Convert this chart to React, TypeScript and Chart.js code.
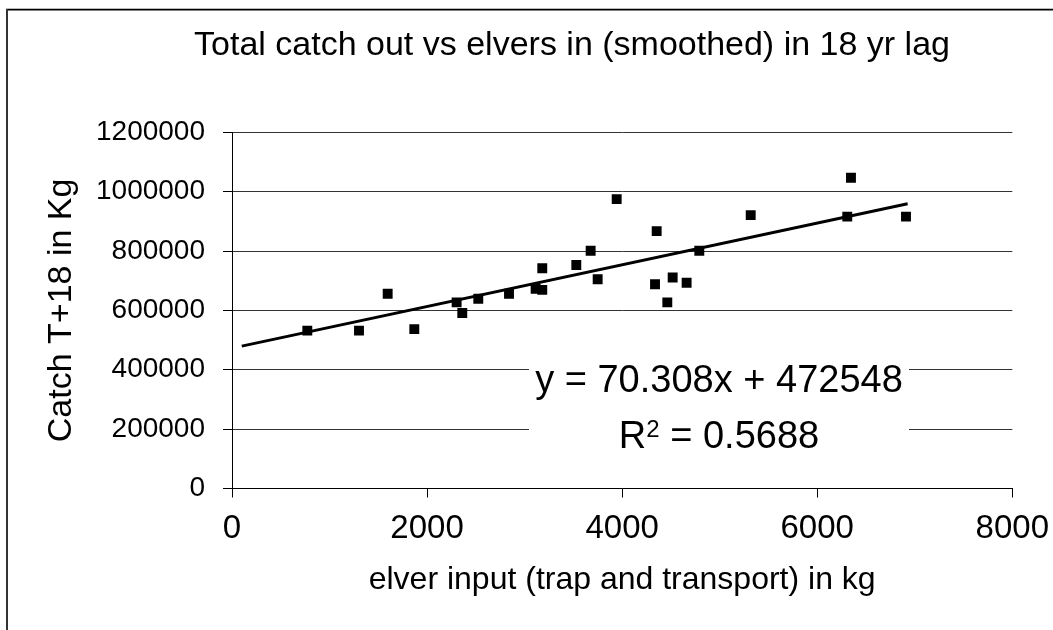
import React, { useEffect, useRef } from "react";
import { Chart, registerables } from "chart.js";

Chart.register(...registerables);

const FONT = '"Liberation Sans", Arial, Helvetica, sans-serif';

// ---- data ----
const elverInput = [772, 1302, 1596, 1869, 2303, 2361, 2525, 2840, 3113, 3181, 3181, 3530, 3677, 3749, 3944, 4337, 4354, 4463, 4518, 4661, 4791, 5318, 6308, 6346, 6910];
const catchT18 = [532000, 532000, 656000, 537000, 627000, 591000, 639000, 656000, 673000, 669000, 742000, 753000, 801000, 705000, 975000, 688000, 867000, 627000, 711000, 693000, 801000, 921000, 916000, 1047000, 916000];

const trendSlope = 70.308;
const trendIntercept = 472548;
const trendXRange = [100, 6927];

const xTickValues = [0, 2000, 4000, 6000, 8000];
const yTickValues = [0, 200000, 400000, 600000, 800000, 1000000, 1200000];

const chartTitle = "Total catch out vs elvers in (smoothed) in 18 yr lag";
const xAxisTitle = "elver input (trap and transport) in kg";
const yAxisTitle = "Catch T+18 in Kg";
const equationText = "y = 70.308x + 472548";
const r2Text = "0.5688";

// ---- layout ----
const W = 1053;
const H = 630;
const AREA = { left: 232, top: 132.3, right: 1012.3, bottom: 488.5 };
const TITLE_POS = { x: 572, y: 46, size: 34 };
const EQ = { x0: 3045, x1: 6941, yTop: 433000, yBottom: 55000, cx: 4993, line1: 325100, line2: 136400, size: 38 };
const X_TICK_SIZE = 33;
const Y_TICK_SIZE = 28;
const X_TITLE_SIZE = 32;
const Y_TITLE_SIZE = 34;

const framePlugin = {
  id: "frame",
  beforeDraw(chart: any) {
    const { ctx } = chart;
    ctx.save();
    ctx.fillStyle = "#ffffff";
    ctx.fillRect(0, 0, W, H);
    ctx.fillStyle = "#bbbbbb";
    ctx.fillRect(6, 8, W, 1);
    ctx.fillStyle = "#000000";
    ctx.fillRect(6, 9, W, 1.5);
    ctx.fillStyle = "#333333";
    ctx.fillRect(6, 9, 2, H);
    ctx.fillStyle = "#000000";
    ctx.font = `${TITLE_POS.size}px ${FONT}`;
    ctx.textAlign = "center";
    ctx.textBaseline = "middle";
    ctx.fillText(chartTitle, TITLE_POS.x, TITLE_POS.y);
    ctx.restore();
  },
};

const equationPlugin = {
  id: "equation",
  beforeDatasetsDraw(chart: any) {
    const { ctx, scales } = chart;
    const x = scales.x;
    const y = scales.y;
    const left = x.getPixelForValue(EQ.x0);
    const right = x.getPixelForValue(EQ.x1);
    const top = y.getPixelForValue(EQ.yTop);
    const bottom = y.getPixelForValue(EQ.yBottom);
    ctx.save();
    ctx.fillStyle = "#ffffff";
    ctx.fillRect(left, top, right - left, bottom - top);
    ctx.fillStyle = "#000000";
    ctx.textBaseline = "alphabetic";
    const cx = x.getPixelForValue(EQ.cx);
    ctx.font = `${EQ.size}px ${FONT}`;
    ctx.textAlign = "center";
    ctx.fillText(equationText, cx, y.getPixelForValue(EQ.line1));
    // R² line
    const b2 = y.getPixelForValue(EQ.line2);
    const supSize = Math.round(EQ.size * 0.62);
    ctx.font = `${EQ.size}px ${FONT}`;
    const wR = ctx.measureText("R").width;
    const wRest = ctx.measureText(" = " + r2Text).width;
    ctx.font = `${supSize}px ${FONT}`;
    const wSup = ctx.measureText("2").width;
    const total = wR + wSup + wRest;
    let sx = cx - total / 2;
    ctx.textAlign = "left";
    ctx.font = `${EQ.size}px ${FONT}`;
    ctx.fillText("R", sx, b2);
    sx += wR;
    ctx.font = `${supSize}px ${FONT}`;
    ctx.fillText("2", sx, b2 - EQ.size * 0.28);
    sx += wSup;
    ctx.font = `${EQ.size}px ${FONT}`;
    ctx.fillText(" = " + r2Text, sx, b2);
    ctx.restore();
  },
};

export default function App() {
  const canvasRef = useRef<HTMLCanvasElement | null>(null);

  useEffect(() => {
    const canvas = canvasRef.current;
    if (!canvas) return;
    const points = elverInput.map((v, i) => ({ x: v, y: catchT18[i] }));
    const trend = trendXRange.map((v) => ({ x: v, y: trendSlope * v + trendIntercept }));

    const chart = new Chart(canvas, {
      type: "scatter",
      data: {
        datasets: [
          {
            label: "Catch",
            data: points,
            pointStyle: "rect",
            pointRadius: 7,
            pointHoverRadius: 7,
            backgroundColor: "#000000",
            borderColor: "#000000",
            borderWidth: 0,
            showLine: false,
          },
          {
            label: "Trend",
            data: trend,
            showLine: true,
            pointRadius: 0,
            pointHoverRadius: 0,
            borderColor: "#000000",
            borderWidth: 3,
            backgroundColor: "#000000",
          },
        ],
      },
      options: {
        responsive: false,
        animation: false,
        events: [],
        layout: { padding: { left: 0, top: AREA.top, right: W - AREA.right, bottom: 0 } },
        plugins: {
          legend: { display: false },
          tooltip: { enabled: false },
          title: { display: false },
        },
        scales: {
          x: {
            type: "linear",
            position: "bottom",
            min: 0,
            max: 8000,
            afterBuildTicks: (s: any) => {
              s.ticks = xTickValues.map((v) => ({ value: v }));
            },
            afterFit: (s: any) => {
              s.height = H - AREA.bottom;
              s.paddingLeft = 0;
              s.paddingRight = 0;
            },
            ticks: {
              font: { size: X_TICK_SIZE, family: FONT },
              color: "#000000",
              padding: 11.4,
              maxRotation: 0,
              autoSkip: false,
              callback: (v: any) => String(v),
            },
            grid: { drawOnChartArea: false, drawTicks: true, tickLength: 9, color: "#000000" },
            border: { color: "#000000", width: 1 },
            title: {
              display: true,
              text: xAxisTitle,
              color: "#000000",
              font: { size: X_TITLE_SIZE, family: FONT },
              padding: { top: 0, bottom: 31 },
            },
          },
          y: {
            type: "linear",
            min: 0,
            max: 1200000,
            afterBuildTicks: (s: any) => {
              s.ticks = yTickValues.map((v) => ({ value: v }));
            },
            afterFit: (s: any) => {
              s.width = AREA.left;
              s.paddingTop = 0;
              s.paddingBottom = 0;
            },
            ticks: {
              font: { size: Y_TICK_SIZE, family: FONT },
              color: "#000000",
              padding: 18,
              autoSkip: false,
              callback: (v: any) => String(v),
            },
            grid: { color: "#333333", tickColor: "#000000", tickLength: 9, lineWidth: 1 },
            border: { color: "#000000", width: 1 },
            title: {
              display: true,
              text: yAxisTitle,
              color: "#000000",
              font: { size: Y_TITLE_SIZE, family: FONT },
              padding: { top: 62 - Y_TITLE_SIZE * 0.6, bottom: 0 },
            },
          },
        },
      },
      plugins: [framePlugin, equationPlugin],
    });
    return () => chart.destroy();
  }, []);

  return (
    <div style={{ position: "fixed", left: 0, top: 0, width: W, height: H, background: "#fff" }}>
      <canvas ref={canvasRef} width={W} height={H} style={{ display: "block", width: W, height: H }} />
    </div>
  );
}
